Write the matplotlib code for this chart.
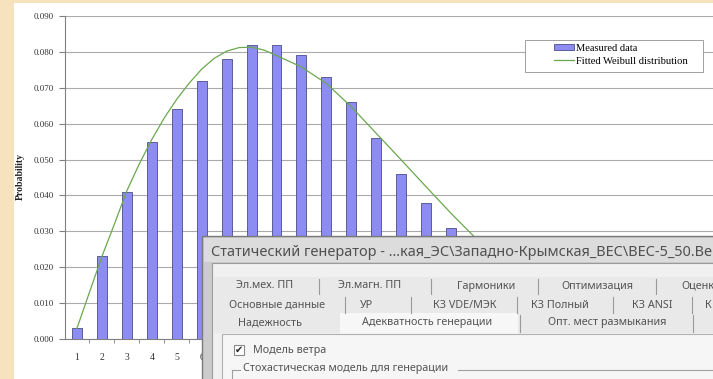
import matplotlib.pyplot as plt
from matplotlib.patches import Rectangle

W, H = 713, 379

# chart data
categories = list(range(1, 27))
measured = [0.003, 0.023, 0.041, 0.055, 0.064, 0.072, 0.078, 0.082, 0.082, 0.079,
            0.073, 0.066, 0.056, 0.046, 0.038, 0.031]
fit_x = [1, 1.5, 2, 2.5, 3, 3.5, 4, 4.5, 5, 5.5, 6, 6.5, 7, 7.5, 8, 8.5, 9,
         10, 11, 12, 13, 14, 15, 16, 17, 18]
fit_y = [0.003, 0.013, 0.023, 0.032, 0.0413, 0.0488, 0.0556, 0.0616, 0.0668, 0.0713,
         0.0752, 0.0782, 0.0802, 0.0812, 0.0813, 0.0805, 0.079,
         0.0758, 0.0712, 0.0647, 0.0573, 0.0499, 0.0424, 0.035, 0.028, 0.022]
yticks = [0.0, 0.01, 0.02, 0.03, 0.04, 0.05, 0.06, 0.07, 0.08, 0.09]
# only the first labels are visible, the rest sit under the dialog window
visible_xlabels = 6

# dialog texts
title = "Статический генератор - ...кая_ЭС\\Западно-Крымская_ВЕС\\ВЕС-5_50.Ве"
tabs_row1 = ["Эл.мех. ПП", "Эл.магн. ПП", "Гармоники", "Оптимизация", "Оценк"]
tabs_row2 = ["Основные данные", "УР", "КЗ VDE/МЭК", "КЗ Полный", "КЗ ANSI", "К"]
tabs_row3 = ["Надежность", "Адекватность генерации", "Опт. мест размыкания"]
row1_x = [265, 370, 486, 597, 698]
row2_x = [277, 367, 465, 560, 652, 708]
row3_x = [270, 427, 607]
sep1 = [319, 431, 538, 656]
sep2 = [345, 411, 517, 613, 692]
sep3 = [520, 693]

serif = "Liberation Serif"
ui = "Noto Sans"

fig = plt.figure(figsize=(W / 100, H / 100), dpi=100, facecolor="#f6e2bd")
bg = fig.add_axes([14 / W, 0, 1 - 14 / W, 1 - 3 / H], zorder=-5)
bg.axis("off")
bg.add_patch(Rectangle((0, 0), 1, 1, transform=bg.transAxes, facecolor="white",
                       edgecolor="none"))

ax = fig.add_axes([64.5 / W, 40 / H, (W - 64.5) / W, 323 / H], zorder=1)
ax.set_facecolor("white")
bars = ax.bar(categories[:len(measured)], measured, width=0.4, color="#8c8cf2",
              edgecolor="#4c4c88", linewidth=0.6, zorder=3, label="Measured data")
line, = ax.plot(fit_x, fit_y, color="#6aa84f", linewidth=0.9, zorder=4,
                label="Fitted Weibull distribution")

ax.set_xlim(0.5, 0.5 + (W - 64.5) / 25)
ax.set_ylim(0, 0.09)
ax.set_yticks(yticks)
ax.set_yticklabels(["%.3f" % v for v in yticks], fontfamily=serif, fontsize=6.5,
                   color="#333333")
ax.set_xticks(categories)
ax.set_xticklabels([str(c) if c <= visible_xlabels else "" for c in categories],
                   fontfamily=serif, fontsize=7, color="#333333")
ax.set_xticks([c + 0.5 for c in categories], minor=True)
ax.tick_params(axis="x", which="major", length=0, pad=10)
ax.tick_params(axis="x", which="minor", length=3, direction="out", color="#808080")
ax.tick_params(axis="y", length=4, direction="out", color="#808080", pad=4)
ax.grid(axis="y", color="#ababab", linewidth=0.8, zorder=0)
ax.set_axisbelow(True)
for s in ["top", "right"]:
    ax.spines[s].set_visible(False)
for s in ["left", "bottom"]:
    ax.spines[s].set_color("#808080")
    ax.spines[s].set_linewidth(0.8)

fig.text(20 / W, 1 - 177 / H, "Probability", rotation=90, ha="center", va="center",
         fontfamily=serif, fontweight="bold", fontsize=7, color="#222222")

# legend frame spans 525..703 x 40..72 px
ax.add_patch(Rectangle((525 / W, 1 - 72 / H), 178 / W, 32 / H, transform=fig.transFigure,
                       facecolor="white", edgecolor="#909090", lw=0.6, zorder=9))
leg = ax.legend(handles=[bars, line], loc="upper left",
                bbox_to_anchor=(552 / W, 1 - 42 / H), bbox_transform=fig.transFigure,
                frameon=False, prop={"family": serif, "size": 7.6}, handlelength=1.9,
                handleheight=0.5, borderpad=0.2, labelspacing=0.35,
                handletextpad=0.2, borderaxespad=0)
leg.set_zorder(10)

# overlay: screenshot of the dialog window, drawn in pixel coordinates
ov = fig.add_axes([0, 0, 1, 1], zorder=20)
ov.set_xlim(0, W)
ov.set_ylim(H, 0)
ov.axis("off")
ov.patch.set_alpha(0)

ov.add_patch(Rectangle((202, 236), 520, 150, facecolor="#cbcbcb", edgecolor="#7a7a7a", lw=1))
ov.add_patch(Rectangle((204, 238), 520, 24, facecolor="#dcdcdc", edgecolor="none"))
ov.add_patch(Rectangle((212, 263), 510, 120, facecolor="#f0f0f0", edgecolor="#9a9a9a", lw=0.8))
ov.text(211, 252, title, fontfamily=ui, fontsize=10.4, color="#505050", va="center",
        ha="left", clip_on=True)

ov.add_patch(Rectangle((214, 277), 510, 56, facecolor="#e9e9e9", edgecolor="none"))
ov.add_patch(Rectangle((340, 313), 178, 21, facecolor="#f7f7f7", edgecolor="none"))
for lbl, x in zip(tabs_row1, row1_x):
    ov.text(x, 286, lbl, fontfamily=ui, fontsize=7.8, color="#555555", ha="center", va="center")
for lbl, x in zip(tabs_row2, row2_x):
    ov.text(x, 305, lbl, fontfamily=ui, fontsize=7.8, color="#555555", ha="center", va="center")
for lbl, x in zip(tabs_row3, row3_x):
    ov.text(x, 323, lbl, fontfamily=ui, fontsize=7.8, color="#555555", ha="center", va="center")
for x in sep1:
    ov.plot([x, x], [279, 294], color="#9a9a9a", lw=0.8)
for x in sep2:
    ov.plot([x, x], [297, 313], color="#9a9a9a", lw=0.8)
for x in sep3:
    ov.plot([x, x], [315, 332], color="#9a9a9a", lw=0.8)

ov.add_patch(Rectangle((222, 334), 500, 50, facecolor="#f6f6f6", edgecolor="#b0b0b0", lw=0.8))
ov.add_patch(Rectangle((234, 345), 10, 10, facecolor="white", edgecolor="#8a8a8a", lw=0.8))
ov.text(239, 350, "✔", fontfamily="DejaVu Sans", fontsize=7, color="#222222",
        ha="center", va="center")
ov.text(253, 350, "Модель ветра", fontfamily=ui, fontsize=7.8, color="#555555", va="center")
ov.plot([232, 240], [370, 370], color="#a0a0a0", lw=0.8)
ov.plot([232, 232], [370, 385], color="#a0a0a0", lw=0.8)
ov.plot([458, 713], [370, 370], color="#a0a0a0", lw=0.8)
ov.text(243, 369, "Стохастическая модель для генерации", fontfamily=ui, fontsize=7.8,
        color="#555555", va="center")

fig.savefig("out.png", dpi=100, facecolor=fig.get_facecolor())
